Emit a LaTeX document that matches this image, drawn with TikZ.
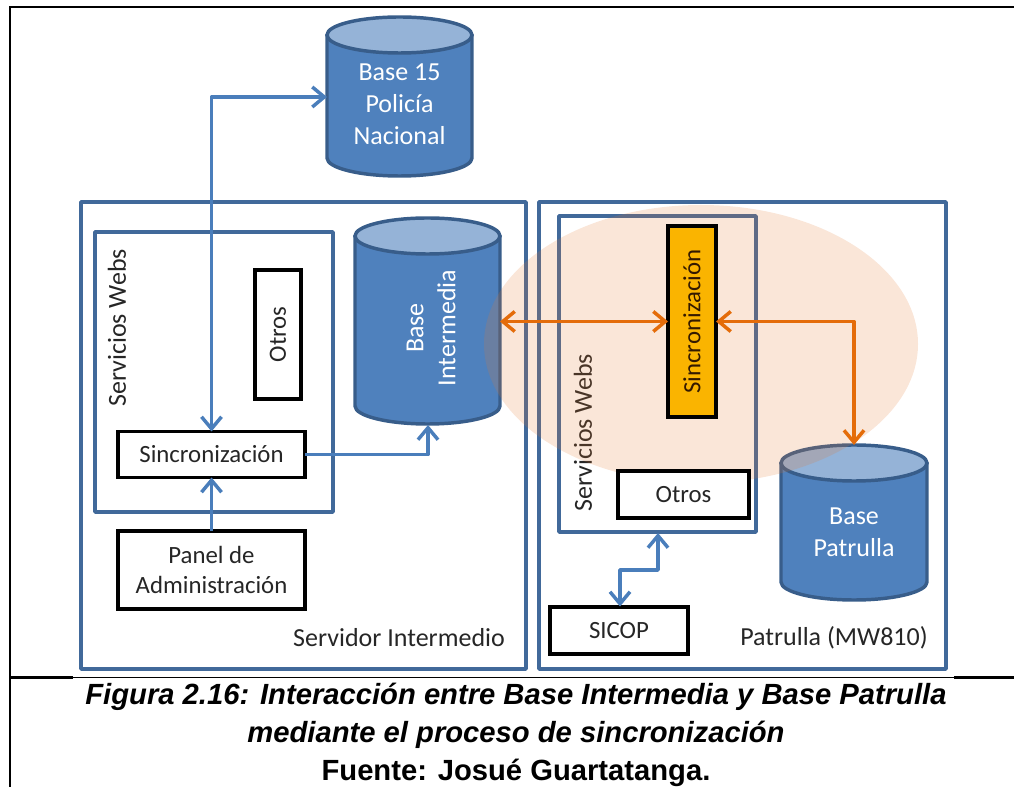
\documentclass[tikz,border=0pt]{standalone}
\usepackage{fontspec}
\setmainfont{Carlito}
\newfontfamily\capfont{Liberation Sans}
\usetikzlibrary{arrows.meta,calc}
\definecolor{frameblue}{HTML}{41699A}
\definecolor{cylfill}{HTML}{4F81BD}
\definecolor{cyltop}{HTML}{95B3D7}
\definecolor{cylline}{HTML}{385D8A}
\definecolor{arrblue}{HTML}{4A7EBB}
\definecolor{arrorange}{HTML}{E46C0A}
\definecolor{halo}{HTML}{E27830}
\definecolor{syncfill}{HTML}{FAB400}
\tikzset{
  x=.75pt,y=-.75pt,
  barb/.tip={Straight Barb[length=9pt,width=15pt,line width=2.6pt]},
  pxsize/.style 2 args={minimum width=#1*.75pt,minimum height=#2*.75pt,inner sep=0pt,outer sep=0pt},
  frameb/.style={draw=frameblue,line width=2.6pt,line join=round},
  blackb/.style={draw=black,line width=2.8pt,fill=white,font=\fontsize{18.6}{19}\selectfont,align=center,text=black!85},
  lbl/.style={font=\fontsize{19.5}{21}\selectfont,text=black!85,inner sep=0pt},
  cyltext/.style={font=\fontsize{19.5}{24}\selectfont,text=white,align=center},
  blueflow/.style={draw=arrblue,line width=2.7pt,line join=round},
  orflow/.style={draw=arrorange,line width=2.7pt,line join=round},
  capline/.style={font=\capfont\bfseries\itshape\fontsize{21.9}{24}\selectfont,inner sep=0pt},
  rule/.style={draw=black,line cap=butt},
}
% #1 name, #2 x1, #3 y1, #4 x2, #5 y2
\newcommand{\dbcyl}[5]{%
  \pgfmathsetmacro{\cxx}{(#2+#4)/2}\pgfmathsetmacro{\rxx}{(#4-#2)/2}%
  \pgfmathsetmacro{\yaa}{#3+18}\pgfmathsetmacro{\ybb}{#5-18}%
  \pgfmathsetmacro{\cyy}{(#3+#5)/2}\pgfmathsetmacro{\www}{#4-#2}\pgfmathsetmacro{\hhh}{#5-#3}%
  \draw[draw=cylline,line width=2.6pt,fill=cylfill,line join=round]
    (#2,\yaa) -- (#2,\ybb) .. controls (#2,\ybb+10) and (\cxx-\rxx*.55,#5) .. (\cxx,#5)
    .. controls (\cxx+\rxx*.55,#5) and (#4,\ybb+10) .. (#4,\ybb) -- (#4,\yaa) -- cycle;
  \draw[draw=cylline,line width=2.6pt,fill=cyltop]
    (#2,\yaa) .. controls (#2,\yaa-10) and (\cxx-\rxx*.55,#3) .. (\cxx,#3)
    .. controls (\cxx+\rxx*.55,#3) and (#4,\yaa-10) .. (#4,\yaa)
    .. controls (#4,\yaa+10) and (\cxx+\rxx*.55,\yaa+18) .. (\cxx,\yaa+18)
    .. controls (\cxx-\rxx*.55,\yaa+18) and (#2,\yaa+10) .. (#2,\yaa) -- cycle;
  \node[pxsize={\www}{\hhh}] (#1) at (\cxx,\cyy) {};
}
\begin{document}
\begin{tikzpicture}
\useasboundingbox (0,0) rectangle (1014,787);
% page rules
\draw[rule,line width=2.1pt] (10,6.5) -- (10,787);
\draw[rule,line width=2.1pt] (9,7) -- (73,7);
\draw[rule,line width=1pt] (73,7) -- (954,7);
\draw[rule,line width=1.6pt] (954,7) -- (1014,7);
\draw[rule,line width=1.6pt] (10,677.5) -- (73,677.5);
\draw[rule,line width=1pt] (73,677.5) -- (954,677.5);
\draw[rule,line width=1.6pt] (954,677.5) -- (1014,677.5);
% frames
\node[frameb,pxsize={445}{467}] (srv) at (303.5,435.5) {};
\node[frameb,pxsize={407}{467}] (pat) at (742.5,435.5) {};
\node[frameb,pxsize={238}{280}] (wsl) at (214,372) {};
\node[frameb,pxsize={197}{316}] (wsr) at (657.5,374) {};
\node[lbl,rotate=90] (wsltxt) at (117,328) {Servicios Webs};
\node[lbl,rotate=90] (wsrtxt) at (583,433) {Servicios Webs};
\node[lbl] (srvtxt) at (399,638) {Servidor Intermedio};
\node[lbl] (pattxt) at (834,638) {Patrulla (MW810)};
% databases
\dbcyl{base15}{327}{17}{472}{176}
\dbcyl{basei}{355}{218}{500}{424}
\dbcyl{basep}{781}{445}{927}{600}
\node[cyltext] (t15) at (399.5,104) {Base 15\\Policía\\Nacional};
\node[cyltext,rotate=90] (ti) at (431,328) {Base\\Intermedia};
\node[cyltext] (tp) at (854,532) {Base\\Patrulla};
% highlight
\fill[halo,fill opacity=.19] (701,344) ellipse [x radius=217,y radius=139];
% boxes
\node[blackb,rotate=90,pxsize={129}{46}] (otl) at (278,334.5) {Otros};
\node[blackb,pxsize={187}{46}] (sinl) at (211.5,454.5) {Sincronización};
\node[blackb,pxsize={187}{78}] (panel) at (211.5,570) {Panel de\\[4pt]Administración};
\node[blackb,fill=syncfill,text=black!80!orange,rotate=90,pxsize={191}{48}] (sinr) at (692,321.5) {Sincronización};
\node[blackb,pxsize={131}{47}] (otr) at (683.5,494.5) {Otros};
\node[blackb,pxsize={138}{47}] (sicop) at (619,630.5) {SICOP};
% connectors
\draw[blueflow,{barb}-{barb}] (sinl.north) -- (211.5,97) -- (base15.west |- 0,97);
\draw[blueflow,-{barb}] (panel.north) -- (sinl.south);
\draw[blueflow,-{barb}] (sinl.east) -- (428,454.5) -- (428,425);
\coordinate (wsbot) at (658,533);
\draw[blueflow,{barb}-{barb}] (wsbot) -- (658,570) -- (620,570) -- (620,606.5);
\draw[orflow,{barb}-{barb}] (basei.east |- sinr.north) -- (sinr.north);
\draw[orflow,{barb}-{barb}] (sinr.south) -- (854,321.5) -- (basep.north);
% caption
\node[capline] (cap1) at (516,697) {Figura 2.16: Interacción entre Base Intermedia y Base Patrulla};
\node[capline] (cap2) at (516,735) {mediante el proceso de sincronización};
\node[capline,font=\capfont\bfseries\fontsize{21.9}{24}\selectfont] (cap3) at (516,773) {Fuente: Josué Guartatanga.};
\end{tikzpicture}
\end{document}
